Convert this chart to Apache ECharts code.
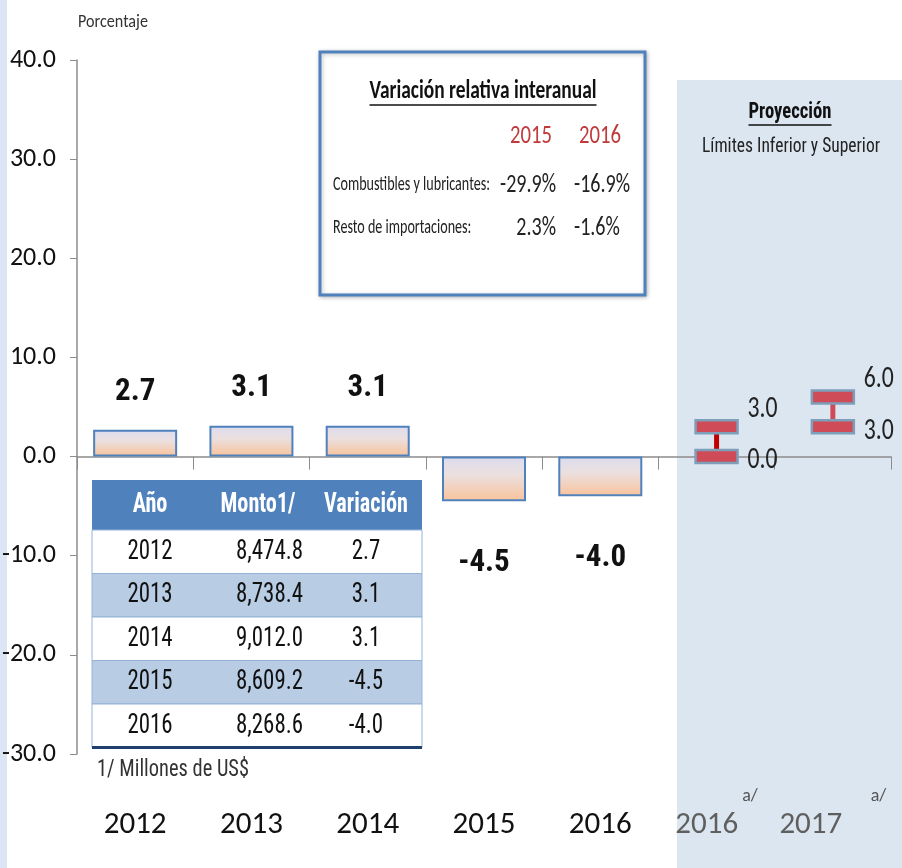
<!DOCTYPE html>
<html>
<head>
<meta charset="utf-8">
<script src="https://cdn.jsdelivr.net/npm/echarts@6/dist/echarts.min.js"></script>
<style>
  html, body { margin: 0; padding: 0; background: #fff; }
  #main { width: 902px; height: 868px; }
</style>
</head>
<body>
<div id="main"></div>
<script>
// data
const categories = ['2012', '2013', '2014', '2015', '2016', '2016p', '2017p'];
const variation = [2.7, 3.1, 3.1, -4.5, -4.0, '-', '-'];
const projCats = ['2016p', '2017p'];
const projLow = [0.0, 3.0];
const projHigh = [3.0, 6.0];
const tableYears = ['2012', '2013', '2014', '2015', '2016'];
const tableMonto = ['8,474.8', '8,738.4', '9,012.0', '8,609.2', '8,268.6'];
const boxYears = ['2015', '2016'];
const boxRows = ['Combustibles y lubricantes:', 'Resto de importaciones:'];
const boxFuel = ['-29.9%', '-16.9%'];
const boxRest = ['2.3%', '-1.6%'];

const CALI = 'Carlito, "Liberation Sans", sans-serif';
const NARROW = '"Roboto Condensed", "Liberation Sans", sans-serif';
const myChart = echarts.init(document.getElementById('main'));

const ctx = document.createElement('canvas').getContext('2d');
function textWidth(t, font) { ctx.font = font; return ctx.measureText(t).width; }
// text squeezed horizontally like the condensed original
function txt(text, x, y, font, fill, align, sx) {
  return { type: 'text', x: x, y: y, scaleX: sx || 1,
    style: { text: text, font: font, fill: fill, align: align || 'left', verticalAlign: 'middle' } };
}
function fitScale(sample, font, w) { return w / textWidth(sample, font); }

const barGrad = new echarts.graphic.LinearGradient(0, 0, 0, 1, [
  { offset: 0, color: '#dcdcee' },
  { offset: 0.4, color: '#ebe0e0' },
  { offset: 1, color: '#f9c29a' }
]);

const barData = variation.map(v => {
  if (v === '-') return '-';
  return {
    value: v,
    label: v >= 0
      ? { position: 'top', distance: 22 }
      : { position: 'bottom', distance: 47 }
  };
});

const projData = projCats.map((c, i) => [categories.indexOf(c), projLow[i], projHigh[i]]);
const projFont = '31px ' + CALI;
const projScale = fitScale('3.0', projFont, 30);

function renderProj(params, api) {
  const x = api.value(0), lo = api.value(1), hi = api.value(2);
  const pLo = api.coord([x, lo]);
  const pHi = api.coord([x, hi]);
  const cx = pLo[0], w = 42, h = 13;
  const cap = { fill: '#cf4b58', stroke: '#7d9fb9', lineWidth: 2.5 };
  return {
    type: 'group',
    children: [
      { type: 'line', shape: { x1: cx, y1: pHi[1], x2: cx, y2: pLo[1] },
        style: { stroke: params.dataIndex === 0 ? '#c00000' : '#cf4b58', lineWidth: 5 } },
      { type: 'rect', shape: { x: cx - w / 2, y: pHi[1] - h / 2, width: w, height: h }, style: cap },
      { type: 'rect', shape: { x: cx - w / 2, y: pLo[1] - h / 2, width: w, height: h }, style: cap },
      txt(hi.toFixed(1), cx + 31, pHi[1] - 18, projFont, '#222', 'left', projScale),
      txt(lo.toFixed(1), cx + 31, pLo[1] + 4, projFont, '#222', 'left', projScale)
    ]
  };
}

// graphic: background, text box, table, notes
const graphics = [];
graphics.push({ type: 'rect', z: -10, shape: { x: 0, y: 0, width: 7, height: 868 }, style: { fill: '#dbe5f3' } });
graphics.push({ type: 'rect', z: -10, shape: { x: 677, y: 80, width: 225, height: 788 }, style: { fill: '#dce6f1' } });
const pcFont = '19px ' + CALI;
graphics.push(txt('Porcentaje', 78, 22, pcFont, '#333', 'left', fitScale('Porcentaje', pcFont, 70)));

// projection header
const projTitleFont = 'bold 22px ' + NARROW;
const ptw = 83;
graphics.push(txt('Proyección', 790, 112, projTitleFont, '#111', 'center', fitScale('Proyección', projTitleFont, ptw)));
graphics.push({ type: 'line', shape: { x1: 790 - ptw / 2, y1: 125, x2: 790 + ptw / 2, y2: 125 }, style: { stroke: '#111', lineWidth: 1.5 } });
const limFont = '21px ' + NARROW;
graphics.push(txt('Límites Inferior y Superior', 791, 147, limFont, '#222', 'center', fitScale('Límites Inferior y Superior', limFont, 178)));

// text box
graphics.push({ type: 'rect', shape: { x: 320, y: 52, width: 325, height: 243 },
  style: { fill: '#fff', stroke: '#4f81bd', lineWidth: 3, shadowBlur: 4, shadowColor: 'rgba(0,0,0,0.25)', shadowOffsetX: 1, shadowOffsetY: 1 } });
const boxTitle = 'Variación relativa interanual';
const boxTitleFont = 'bold 26px ' + CALI;
const btw = 227;
graphics.push(txt(boxTitle, 483, 91, boxTitleFont, '#111', 'center', fitScale(boxTitle, boxTitleFont, btw)));
graphics.push({ type: 'line', shape: { x1: 483 - btw / 2, y1: 105, x2: 483 + btw / 2, y2: 105 }, style: { stroke: '#111', lineWidth: 1.5 } });
const yrFont = '26px ' + CALI;
const yrScale = fitScale('2015', yrFont, 42);
const colX = [531, 600];
boxYears.forEach((y, i) => graphics.push(txt(y, colX[i], 136, yrFont, '#c0393b', 'center', yrScale)));
const rowFont = '21px ' + CALI;
const rowScale = fitScale(boxRows[0], rowFont, 157);
const valFont = '27px ' + CALI;
const valScale = fitScale(boxFuel[0], valFont, 56);
[boxFuel, boxRest].forEach((vals, r) => {
  const yy = r === 0 ? 185 : 228;
  graphics.push(txt(boxRows[r], 333, yy, rowFont, '#222', 'left', rowScale));
  graphics.push(txt(vals[0], 556, yy, valFont, '#222', 'right', valScale));
  graphics.push(txt(vals[1], 574, yy, valFont, '#222', 'left', valScale));
});

// table
const tX = 92, tW = 330, tTop = 480, headH = 50, rowH = 43.5;
const cYear = 150, cMontoR = 303, cVar = 366;
const headFont = 'bold 28px ' + NARROW;
const headScale = fitScale('Variación', headFont, 84);
const cellFont = '28px ' + NARROW;
const cellScale = fitScale('8,474.8', cellFont, 67);
graphics.push({ type: 'rect', shape: { x: tX, y: tTop, width: tW, height: headH }, style: { fill: '#4f81bd' } });
[['Año', cYear], ['Monto1/', 258], ['Variación', cVar]].forEach(h => {
  graphics.push(txt(h[0], h[1], tTop + headH / 2, headFont, '#fff', 'center', headScale));
});
tableYears.forEach((yr, i) => {
  const top = tTop + headH + i * rowH;
  const cy = top + rowH / 2;
  graphics.push({ type: 'rect', shape: { x: tX, y: top, width: tW, height: rowH },
    style: { fill: i % 2 === 1 ? '#b8cce4' : '#fff', stroke: '#95b3d7', lineWidth: 1 } });
  graphics.push(txt(yr, cYear, cy, cellFont, '#111', 'center', cellScale));
  graphics.push(txt(tableMonto[i], cMontoR, cy, cellFont, '#111', 'right', cellScale));
  graphics.push(txt(variation[i].toFixed(1), cVar, cy, cellFont, '#111', 'center', cellScale));
});
const tBottom = tTop + headH + tableYears.length * rowH;
graphics.push({ type: 'line', shape: { x1: tX, y1: tBottom, x2: tX + tW, y2: tBottom }, style: { stroke: '#1f3f6e', lineWidth: 3 } });
const noteFont = '23px ' + NARROW;
graphics.push(txt('1/ Millones de US$', 97, 770, noteFont, '#333', 'left', fitScale('1/ Millones de US$', noteFont, 152)));

const option = {
  animation: false,
  backgroundColor: '#fff',
  grid: { left: 77, right: 11, top: 60, bottom: 114, outerBoundsMode: 'none' },
  xAxis: [
    {
      type: 'category',
      position: 'bottom',
      data: categories,
      axisLine: { onZero: true, lineStyle: { color: '#8c8c8c', width: 1.5 } },
      axisTick: { show: true, length: 13, interval: 0, lineStyle: { color: '#8c8c8c' } },
      axisLabel: { show: false }
    },
    {
      type: 'category',
      position: 'bottom',
      data: categories,
      axisLine: { show: false, onZero: false },
      axisTick: { show: false },
      axisLabel: {
        margin: 31,
        interval: 0,
        formatter: v => v.endsWith('p')
          ? '{g|' + v.slice(0, 4) + '}{s|' + (v === '2017p' ? '       a/' : ' a/') + '}'
          : '{n|' + v + '}',
        rich: {
          n: { fontFamily: CALI, fontSize: 31, color: '#111', lineHeight: 80 },
          g: { fontFamily: CALI, fontSize: 31, color: '#5f5f5f', lineHeight: 80 },
          s: { fontFamily: CALI, fontSize: 18, color: '#555', lineHeight: 20, padding: [0, 0, 58, 0] }
        }
      }
    }
  ],
  yAxis: {
    type: 'value',
    min: -30,
    max: 40,
    interval: 10,
    axisLine: { show: true, lineStyle: { color: '#8c8c8c', width: 1.5 } },
    axisTick: { show: true, length: 7, lineStyle: { color: '#8c8c8c' } },
    splitLine: { show: false },
    axisLabel: { margin: 21, formatter: v => v.toFixed(1), fontFamily: CALI, fontSize: 26, color: '#111' }
  },
  series: [
    {
      type: 'bar',
      data: barData,
      barWidth: 84,
      itemStyle: { color: barGrad, borderColor: '#4f81bd', borderWidth: 2 },
      label: {
        show: true,
        formatter: p => p.value.toFixed(1),
        fontFamily: NARROW,
        fontWeight: 'bold',
        fontSize: 31,
        color: '#111'
      }
    },
    {
      type: 'custom',
      renderItem: renderProj,
      data: projData,
      encode: { x: 0, y: [1, 2] },
      z: 5
    }
  ],
  graphic: graphics
};

myChart.setOption(option);
</script>
</body>
</html>
